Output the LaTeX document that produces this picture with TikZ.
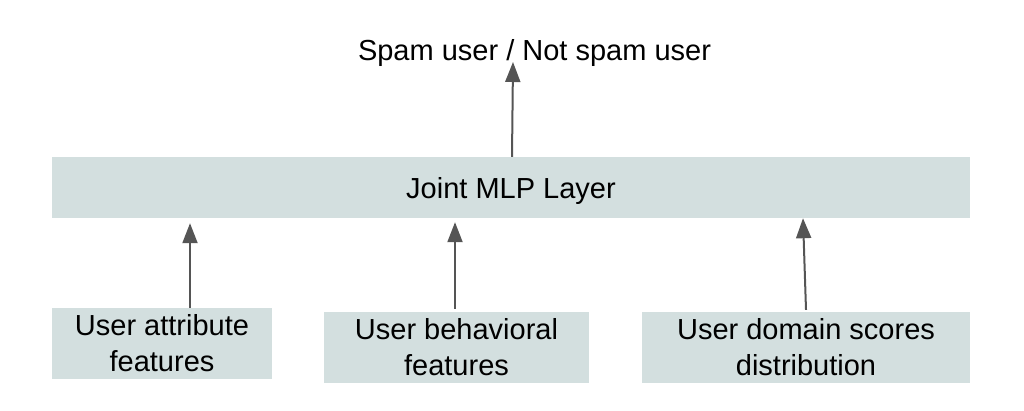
\documentclass[tikz,border=0pt]{standalone}
\usepackage{fontspec}
\setmainfont{Liberation Sans}
\usetikzlibrary{arrows.meta,calc}
\definecolor{boxfill}{HTML}{D3DFDF}
\definecolor{arrcol}{HTML}{555555}
\tikzset{
  box/.style={fill=boxfill, draw=none, inner sep=0pt, align=center,
    font=\fontsize{29}{36}\selectfont},
  lbl/.style={inner sep=0pt, font=\fontsize{29}{36}\selectfont},
  arr/.style={draw=arrcol, line width=2pt, -{Triangle[length=20pt,width=15pt]}}
}
\begin{document}
\begin{tikzpicture}[x=1pt,y=-1pt]
\useasboundingbox (0,0) rectangle (1024,410);
\node[lbl, anchor=base] (out) at (534.5,60) {Spam user / Not spam user};
\node[box, text depth=0pt, minimum width=918pt, minimum height=61pt] (mlp) at (511,187.5) {Joint MLP Layer};
\node[box, minimum width=220pt, minimum height=71pt] (b1) at (162,343.5) {User attribute\\features};
\node[box, minimum width=265pt, minimum height=71pt] (b2) at (456.5,347.5) {User behavioral\\features};
\node[box, minimum width=328pt, minimum height=71pt] (b3) at (806,347.5) {User domain scores\\distribution};
\coordinate (t0) at (513,62);
\draw[arr] ([xshift=1pt]mlp.north) -- (t0);
\draw[arr] ([xshift=28pt]b1.north) -- ([xshift=28pt,yshift=-5pt]b1.north |- mlp.south);
\draw[arr] ([xshift=-1.5pt,yshift=3pt]b2.north) -- ([xshift=-1.5pt,yshift=-4pt]b2.north |- mlp.south);
\draw[arr] ([yshift=2pt]b3.north) -- ([xshift=-3pt]b3.north |- mlp.south);
\end{tikzpicture}
\end{document}
